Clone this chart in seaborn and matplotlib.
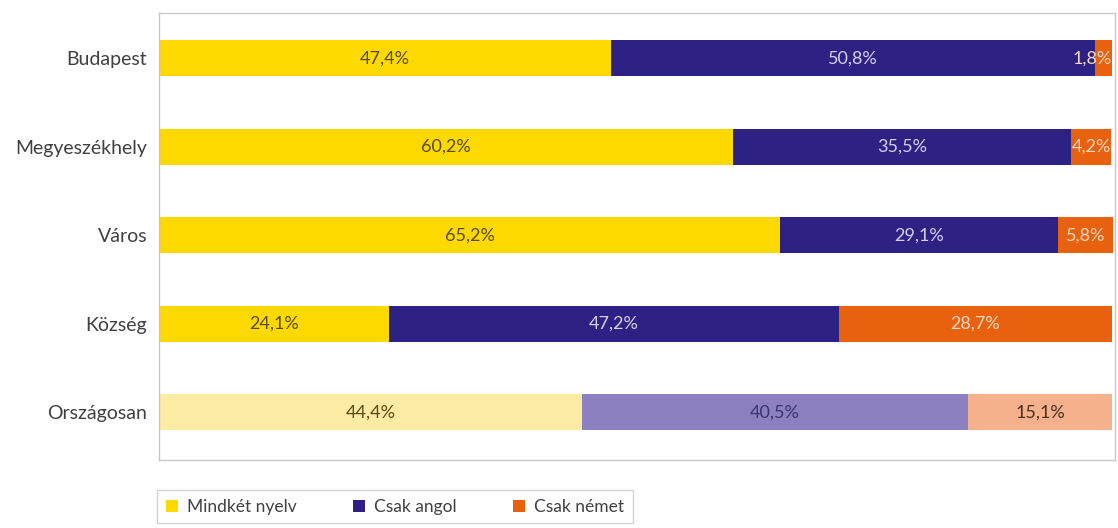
import matplotlib
matplotlib.use("Agg")
import matplotlib.pyplot as plt
from matplotlib.patches import Patch
import seaborn as sns
import pandas as pd
import numpy as np

categories = ["Budapest", "Megyeszékhely", "Város", "Község", "Országosan"]
mindket = [47.4, 60.2, 65.2, 24.1, 44.4]
csak_angol = [50.8, 35.5, 29.1, 47.2, 40.5]
csak_nemet = [1.8, 4.2, 5.8, 28.7, 15.1]
series_names = ["Mindkét nyelv", "Csak angol", "Csak német"]

colors_main = ["#FDD900", "#2D2283", "#E8610E"]
colors_light = ["#FCEBA2", "#8C80C0", "#F4B18C"]
text_main = ["#5A4B10", "#D4D0F0", "#F8D8C0"]
text_light = ["#5A4B10", "#3A3470", "#4A3020"]

sns.set_theme(style="white")
plt.rcParams["font.family"] = ["Lato", "DejaVu Sans"]

fig = plt.figure(figsize=(11.18, 5.28), dpi=100)
ax = fig.add_axes([0.1422, 0.1288, 0.8551, 0.8466])

vals = np.array([mindket, csak_angol, csak_nemet])
cum = np.cumsum(vals, axis=0)

# draw cumulative layers, largest first
for k in [2, 1, 0]:
    df = pd.DataFrame({"cat": categories, "v": cum[k]})
    n_before = len(ax.patches)
    sns.barplot(data=df, x="v", y="cat", orient="h", ax=ax, width=0.41,
                color=colors_main[k], saturation=1, linewidth=0)
    new = ax.patches[n_before:]
    for i, p in enumerate(new):
        p.set_facecolor(colors_light[k] if i == len(categories) - 1 else colors_main[k])
        p.set_edgecolor("none")

# labels
for i in range(len(categories)):
    left = 0
    for k in range(3):
        v = vals[k][i]
        c = text_light[k] if i == len(categories) - 1 else text_main[k]
        x = left + v / 2
        ha = "center"
        if v < 3:
            x = left + v
            ha = "right"
        ax.text(x, i, f"{v:.1f}%".replace(".", ","), ha=ha,
                va="center", fontsize=13, color=c)
        left += v

ax.set_xlim(0, 100.3)
ax.set_ylim(4.54, -0.51)
ax.set_xlabel("")
ax.set_ylabel("")
ax.set_xticks([])
ax.tick_params(axis="y", length=0, pad=8.5, labelsize=14, labelcolor="#404040")
for s in ax.spines.values():
    s.set_visible(True)
    s.set_color("#C8C8C8")
    s.set_linewidth(1.0)

handles = [Patch(facecolor=c, edgecolor="none") for c in colors_main]
leg = fig.legend(handles, series_names, loc="upper left",
                 bbox_to_anchor=(0.1404, 0.072), bbox_transform=fig.transFigure,
                 borderaxespad=0,
                 ncol=3, frameon=True, fancybox=False, fontsize=12.5,
                 handlelength=0.7, handleheight=0.7, handletextpad=0.55,
                 columnspacing=3.2, borderpad=0.5, labelcolor="#404040")
leg.get_frame().set_edgecolor("#C8C8C8")
leg.get_frame().set_linewidth(1.0)

fig.savefig("out.png", dpi=100)
